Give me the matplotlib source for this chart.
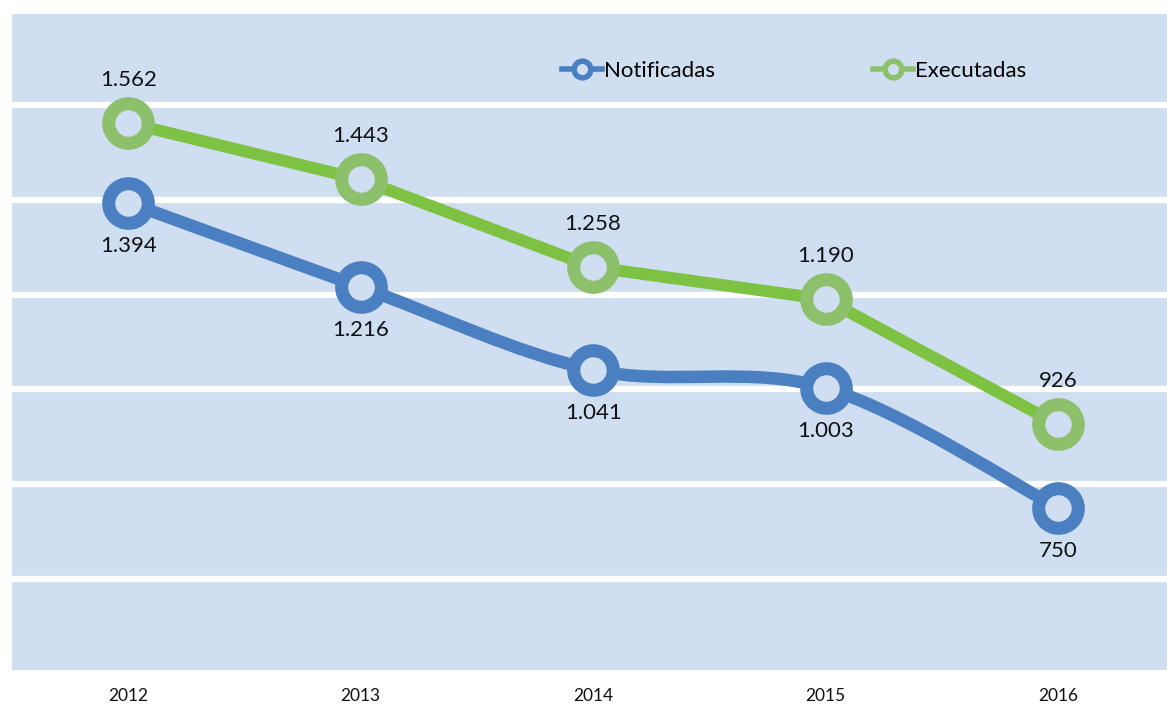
import numpy as np
import matplotlib
matplotlib.use('Agg')
import matplotlib.pyplot as plt
from matplotlib.path import Path
from matplotlib.patches import PathPatch
from matplotlib.lines import Line2D

years = ['2012', '2013', '2014', '2015', '2016']
notificadas = [1394, 1216, 1041, 1003, 750]
executadas = [1562, 1443, 1258, 1190, 926]

bg = '#cfdef1'
blue = '#4a7fc1'
green_line = '#7dc243'
green_mark = '#8dc06a'

plt.rcParams['font.family'] = ['Lato', 'DejaVu Sans']


def fmt(v):
    # thousands separator as dot
    return '{:,}'.format(v).replace(',', '.')


def smooth_path(xs, ys):
    # excel-like smoothed line as cubic bezier segments
    p = np.column_stack([xs, ys]).astype(float)
    n = len(p)
    verts = [p[0]]
    codes = [Path.MOVETO]
    for i in range(n - 1):
        p0 = p[i - 1] if i > 0 else p[i]
        p3 = p[i + 2] if i + 2 < n else p[i + 1]
        c1 = p[i] + (p[i + 1] - p0) / 6
        c2 = p[i + 1] - (p3 - p[i]) / 6
        verts += [c1, c2, p[i + 1]]
        codes += [Path.CURVE4] * 3
    return Path(verts, codes)


fig = plt.figure(figsize=(11.67, 7.09), dpi=100)
ax = fig.add_axes([12 / 1167, 39 / 709, 1155 / 1167, 656 / 709])
ax.set_facecolor(bg)

x = np.arange(len(years))
ax.set_xlim(-0.5, 4.469)
ax.set_ylim(408, 1792)

for g in range(400, 2000, 200):
    ax.axhline(g, color='white', lw=4.5, zorder=1)

# blue series is smoothed, green is straight
patch = PathPatch(smooth_path(x, notificadas), fill=False, edgecolor=blue, lw=9,
                  capstyle='round', joinstyle='round', zorder=2)
ax.add_patch(patch)
ax.plot(x, notificadas, ls='none', marker='o', ms=28.5, mew=9.4,
        mec=blue, mfc=bg, zorder=3)

ax.plot(x, executadas, color=green_line, lw=8.6, solid_joinstyle='round', zorder=2)
ax.plot(x, executadas, ls='none', marker='o', ms=28.5, mew=9.4,
        mec=green_mark, mfc=bg, zorder=3)

for xi, v in zip(x, executadas):
    ax.annotate(fmt(v), (xi, v), xytext=(0, 31), textcoords='offset points',
                ha='center', va='center', fontsize=16, color='#111111')
for xi, v in zip(x, notificadas):
    ax.annotate(fmt(v), (xi, v), xytext=(0, -31), textcoords='offset points',
                ha='center', va='center', fontsize=16, color='#111111')

ax.set_xticks(x)
ax.set_xticklabels(years, fontsize=12.5, color='#111111')
ax.set_yticks([])
ax.tick_params(axis='x', length=0, pad=13)
for s in ax.spines.values():
    s.set_visible(False)

handles = [
    Line2D([], [], color=blue, lw=4, marker='o', ms=12, mew=4, mec=blue, mfc=bg),
    Line2D([], [], color=green_mark, lw=4, marker='o', ms=12, mew=4, mec=green_mark, mfc=bg),
]
ax.legend(handles, ['Notificadas', 'Executadas'], ncol=2, frameon=False,
          loc='center left', bbox_to_anchor=(541 / 1155, 1 - (71 - 14) / 656),
          fontsize=16, handlelength=1.8, handletextpad=0.1, columnspacing=7.1,
          borderaxespad=0)

fig.savefig('out.png', dpi=100, facecolor='white')
